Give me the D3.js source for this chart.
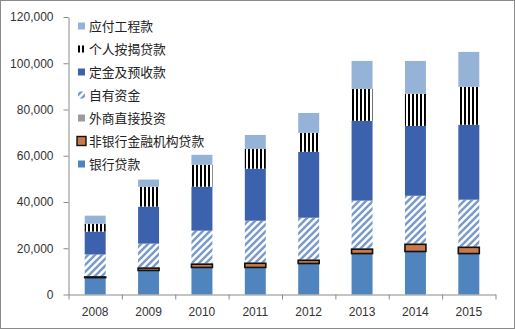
<!DOCTYPE html>
<html>
<head>
<meta charset="utf-8">
<script src="https://cdn.jsdelivr.net/npm/d3@7/dist/d3.min.js"></script>
<style>
  html, body { margin: 0; padding: 0; background: #fff; }
  svg { display: block; }
  .axis text { font-family: "Liberation Sans", Arial, sans-serif; font-size: 12px; fill: #333; }
  .legend text { font-family: "Noto Sans CJK SC", sans-serif; font-size: 12.8px; fill: #222; }
</style>
</head>
<body>
<svg id="chart" width="515" height="329"></svg>
<script>
// Funding sources of real-estate development, by year (stacked bottom to top)
const years = ['2008', '2009', '2010', '2011', '2012', '2013', '2014', '2015'];
const bankLoans     = [7300, 10400, 11700, 11700, 13400, 17700, 18600, 17700];
const nonBankLoans  = [300, 1000, 1400, 1800, 1400, 1900, 3100, 2700];
const foreignDirect = [200, 300, 300, 300, 300, 300, 300, 300];
const selfFunds     = [9500, 10300, 14200, 18100, 18100, 20700, 20700, 20300];
const deposits      = [9900, 16000, 19000, 22500, 28500, 34500, 30200, 32400];
const mortgages     = [3400, 8600, 9500, 8600, 8200, 13800, 13900, 16400];
const payables      = [3500, 3100, 4300, 6000, 8600, 12100, 14200, 15100];
const yTicks = [0, 20000, 40000, 60000, 80000, 100000, 120000];

const seriesNames = ['银行贷款', '非银行金融机构贷款', '外商直接投资', '自有资金', '定金及预收款', '个人按揭贷款', '应付工程款'];
const seriesValues = [bankLoans, nonBankLoans, foreignDirect, selfFunds, deposits, mortgages, payables];

const fills = {
  '银行贷款': '#4f84bf',
  '非银行金融机构贷款': '#c97a4c',
  '外商直接投资': '#9c9c9c',
  '自有资金': 'url(#hatch)',
  '定金及预收款': '#3c62ad',
  '个人按揭贷款': 'url(#vstripes)',
  '应付工程款': '#95b3d7'
};

const svg = d3.select('#chart');
const W = 515, H = 329;

// outer chart frame
svg.append('rect')
  .attr('x', 0.5).attr('y', 0.5).attr('width', W - 1).attr('height', H - 1)
  .attr('fill', '#fff').attr('stroke', '#8a8a8a');

// fill patterns
const defs = svg.append('defs');
const hatch = defs.append('pattern')
  .attr('id', 'hatch').attr('patternUnits', 'userSpaceOnUse')
  .attr('width', 7).attr('height', 7);
hatch.append('rect').attr('width', 7).attr('height', 7).attr('fill', '#fff');
hatch.append('path')
  .attr('d', 'M-1,1 L1,-1 M0,7 L7,0 M6,8 L8,6')
  .attr('stroke', '#7a9bc9').attr('stroke-width', 2.5);

const stripes = defs.append('pattern')
  .attr('id', 'vstripes').attr('patternUnits', 'userSpaceOnUse')
  .attr('width', 4).attr('height', 4);
stripes.append('rect').attr('width', 4).attr('height', 4).attr('fill', '#fff');
stripes.append('rect').attr('width', 2).attr('height', 4).attr('fill', '#000');

// scales
const plotLeft = 68.5, plotRight = 495.5, plotTop = 17, plotBottom = 294.5;
const x = d3.scaleBand().domain(years).range([plotLeft, plotRight])
  .paddingInner(0.607).paddingOuter(0.3035);
const xEdges = d3.scaleLinear().domain([0, years.length]).range([plotLeft, plotRight]);
const y = d3.scaleLinear().domain([0, 120000]).range([plotBottom, plotTop]);

// stacked data
const rows = years.map((yr, i) => {
  const r = { year: yr };
  seriesNames.forEach((n, k) => { r[n] = seriesValues[k][i]; });
  return r;
});
const stacked = d3.stack().keys(seriesNames)(rows);

const layers = svg.append('g').selectAll('g.layer')
  .data(stacked)
  .join('g')
  .attr('class', 'layer')
  .attr('fill', d => fills[d.key]);

layers.selectAll('rect')
  .data(d => d)
  .join('rect')
  .attr('x', d => x(d.data.year))
  .attr('width', x.bandwidth())
  .attr('y', d => y(d[1]))
  .attr('height', d => y(d[0]) - y(d[1]));

// non-bank loans carry a dark outline, kept above neighbouring segments
layers.filter(d => d.key === '非银行金融机构贷款')
  .raise()
  .selectAll('rect')
  .attr('stroke', '#111').attr('stroke-width', 1.6);

// axes
const yAxis = svg.append('g').attr('class', 'axis')
  .attr('transform', `translate(${plotLeft},0)`)
  .call(d3.axisLeft(y).tickValues(yTicks).tickFormat(d3.format(',')).tickSize(5).tickSizeOuter(0).tickPadding(10));
yAxis.select('.domain').attr('stroke', '#8a8a8a');
yAxis.selectAll('.tick line').attr('stroke', '#8a8a8a');

const xTicks = svg.append('g')
  .attr('transform', `translate(0,${plotBottom})`)
  .call(d3.axisBottom(xEdges).tickValues(d3.range(years.length + 1)).tickFormat('').tickSize(5).tickSizeOuter(0));
xTicks.select('.domain').attr('stroke', '#8a8a8a');
xTicks.selectAll('.tick line').attr('stroke', '#8a8a8a');

const xLabels = svg.append('g').attr('class', 'axis')
  .attr('transform', `translate(0,${plotBottom})`)
  .call(d3.axisBottom(x).tickSize(0).tickPadding(13));
xLabels.select('.domain').remove();

// legend, listed top of stack first
const legendOrder = seriesNames.slice().reverse();
const legend = svg.append('g').attr('class', 'legend');
const item = legend.selectAll('g')
  .data(legendOrder)
  .join('g')
  .attr('transform', (d, i) => `translate(78,${26 + i * 23})`);

item.append('rect')
  .attr('x', d => d === '非银行金融机构贷款' ? -1 : 0)
  .attr('y', d => d === '非银行金融机构贷款' ? -4.5 : -3.5)
  .attr('width', d => d === '非银行金融机构贷款' ? 9 : 7)
  .attr('height', d => d === '非银行金融机构贷款' ? 9 : 7)
  .attr('fill', d => fills[d])
  .attr('stroke', d => d === '非银行金融机构贷款' ? '#111' : 'none')
  .attr('stroke-width', 1.4);

item.append('text')
  .attr('x', 11)
  .attr('dy', '0.36em')
  .text(d => d);
</script>
</body>
</html>
